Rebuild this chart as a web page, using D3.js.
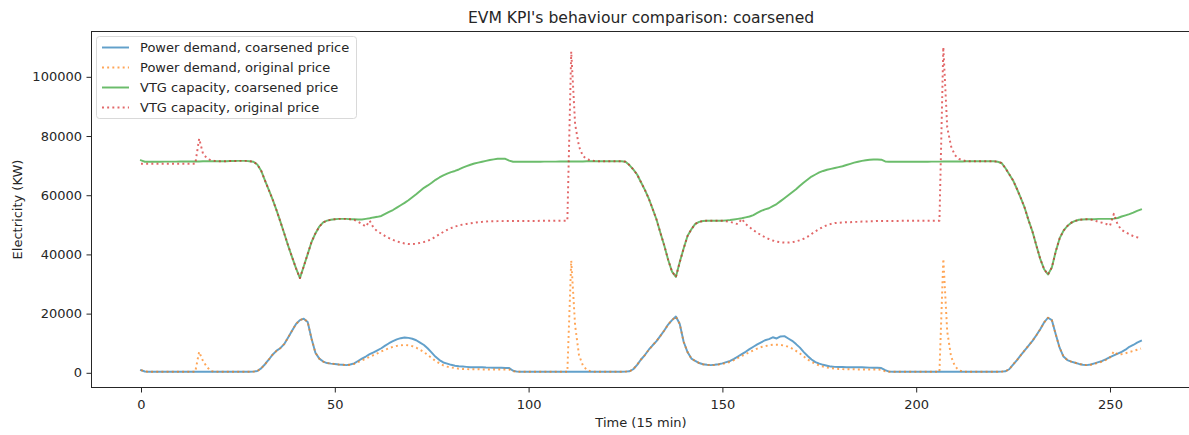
<!DOCTYPE html>
<html>
<head>
<meta charset="utf-8">
<script src="https://cdn.jsdelivr.net/npm/d3@7"></script>
<style>
  html, body { margin: 0; padding: 0; background: #ffffff; }
  svg text { font-family: "DejaVu Sans", "Liberation Sans", sans-serif; fill: #262626; }
</style>
</head>
<body>
<svg id="chart" width="1189" height="435"></svg>
<script>
// Electricity per 15-minute step (KW)
const powerDemandCoarsened = [
  900, 450, 350, 350, 350, 350, 350, 350, 350, 350,
  350, 350, 350, 350, 350, 350, 350, 350, 350, 350,
  350, 350, 350, 350, 350, 350, 350, 350, 350, 400,
  600, 1500, 2900, 4500, 6200, 7500, 8400, 9800, 12000, 14300,
  16500, 17800, 18300, 17200, 11500, 6800, 4800, 3800, 3300, 3100,
  3000, 2800, 2700, 2600, 2800, 3200, 4000, 4800, 5500, 6300,
  6900, 7600, 8300, 9200, 10000, 10700, 11300, 11700, 11900, 11800,
  11500, 11000, 10200, 9400, 8200, 6800, 5400, 4300, 3500, 3100,
  2700, 2400, 2200, 2100, 2000, 1900, 1900, 1900, 1900, 1800,
  1750, 1700, 1700, 1700, 1650, 1600, 700, 400, 350, 350,
  350, 350, 350, 350, 350, 350, 350, 350, 350, 350,
  350, 350, 350, 350, 350, 350, 350, 350, 350, 350,
  350, 350, 350, 350, 350, 400, 500, 1200, 2700, 4500,
  6000, 7800, 9300, 10700, 12500, 14300, 16300, 17800, 19000, 16500,
  10500, 7000, 4800, 4000, 3300, 2900, 2700, 2600, 2700, 2900,
  3200, 3600, 4000, 4700, 5500, 6300, 7100, 8000, 8800, 9600,
  10300, 11000, 11400, 12000, 11600, 12300, 12400, 11600, 10800, 9700,
  8500, 7000, 5700, 4500, 3600, 3100, 2700, 2400, 2100, 2000,
  1950, 1950, 1900, 1900, 1900, 1900, 1850, 1800, 1750, 1700,
  1700, 1600, 900, 400, 350, 350, 350, 350, 350, 350,
  350, 350, 350, 350, 350, 350, 350, 350, 350, 350,
  350, 350, 350, 350, 350, 350, 350, 350, 350, 350,
  350, 350, 400, 500, 1200, 2800, 4300, 6000, 7600, 9200,
  10800, 12700, 14700, 17000, 18600, 17800, 13000, 8500, 5500, 4300,
  3800, 3400, 3000, 2700, 2600, 2800, 3200, 3600, 4000, 4600,
  5300, 5900, 6500, 7100, 7800, 8800, 9400, 10200, 10800
];

const powerDemandOriginal = [
  900, 450, 350, 350, 350, 350, 350, 350, 350, 350,
  350, 350, 350, 350, 350, 7100, 4000, 2000, 600, 350,
  350, 350, 350, 350, 350, 350, 350, 350, 350, 400,
  600, 1500, 2900, 4500, 6200, 7500, 8400, 9800, 12000, 14300,
  16500, 17800, 18300, 17200, 11500, 6800, 4800, 3800, 3300, 3100,
  3000, 2800, 2700, 2600, 2700, 3000, 3600, 4200, 4800, 5400,
  6000, 6600, 7200, 7800, 8300, 8800, 9100, 9300, 9400, 9300,
  9000, 8500, 7800, 7000, 6000, 5000, 4000, 3200, 2500, 2100,
  1800, 1600, 1400, 1300, 1250, 1200, 1200, 1200, 1150, 1150,
  1100, 1100, 1100, 1100, 1100, 1100, 500, 350, 350, 350,
  350, 350, 350, 350, 350, 350, 350, 350, 350, 350,
  350, 37900, 16000, 6000, 2500, 1000, 500, 350, 350, 350,
  350, 350, 350, 350, 350, 400, 500, 1200, 2700, 4500,
  6000, 7800, 9300, 10700, 12500, 14300, 16300, 17800, 19000, 16500,
  10500, 7000, 4800, 4000, 3300, 2900, 2700, 2600, 2600, 2800,
  3000, 3300, 3700, 4300, 5000, 5700, 6300, 7000, 7600, 8200,
  8700, 9000, 9300, 9500, 9500, 9400, 9200, 8800, 8200, 7400,
  6500, 5500, 4500, 3700, 3000, 2500, 2100, 1800, 1600, 1400,
  1300, 1250, 1200, 1200, 1200, 1150, 1150, 1150, 1100, 1100,
  1100, 1050, 500, 350, 350, 350, 350, 350, 350, 350,
  350, 350, 350, 350, 350, 350, 350, 38500, 14000, 5500,
  2200, 900, 400, 350, 350, 350, 350, 350, 350, 350,
  350, 350, 400, 500, 1200, 2800, 4300, 6000, 7600, 9200,
  10800, 12700, 14700, 17000, 18600, 17800, 13000, 8500, 5500, 4300,
  3800, 3400, 3000, 2700, 2600, 2700, 3000, 3400, 3800, 4400,
  5200, 7200, 6200, 6300, 6600, 7000, 7400, 7800, 8200
];

const vtgCapacityCoarsened = [
  71800, 71300, 71300, 71300, 71300, 71300, 71350, 71350, 71350, 71350,
  71400, 71400, 71400, 71400, 71400, 71400, 71450, 71450, 71450, 71500,
  71500, 71500, 71500, 71550, 71550, 71600, 71600, 71600, 71500, 71300,
  70400, 68300, 64900, 61700, 58400, 54800, 50900, 46900, 42800, 39000,
  35300, 32000, 36000, 40100, 44200, 47100, 49400, 50800, 51400, 51700,
  51900, 52000, 52000, 52000, 51900, 51900, 51800, 51800, 52000, 52200,
  52500, 52700, 53000, 53700, 54400, 55000, 55800, 56600, 57400, 58300,
  59300, 60300, 61400, 62500, 63300, 64200, 65200, 66000, 66700, 67300,
  67800, 68200, 68700, 69300, 69800, 70300, 70700, 71000, 71300, 71600,
  71900, 72100, 72300, 72300, 72300, 71700, 71300, 71300, 71300, 71300,
  71300, 71300, 71300, 71300, 71350, 71350, 71350, 71350, 71400, 71400,
  71400, 71400, 71400, 71400, 71400, 71450, 71450, 71450, 71500, 71500,
  71500, 71500, 71500, 71500, 71500, 71300, 70200, 68700, 67000, 64400,
  61800, 58900, 55400, 51800, 47300, 43000, 38200, 34200, 32400, 37400,
  42000, 46200, 48500, 50300, 51000, 51300, 51400, 51400, 51400, 51400,
  51400, 51500, 51600, 51800, 52000, 52200, 52500, 52800, 53300, 54000,
  54700, 55200, 55600, 56300, 57000, 58000, 59000, 60000, 61000, 62000,
  63200, 64300, 65300, 66300, 67000, 67700, 68200, 68600, 68900, 69200,
  69500, 69800, 70200, 70600, 71000, 71300, 71600, 71800, 72000, 72100,
  72100, 72000, 71400, 71300, 71300, 71300, 71300, 71300, 71300, 71300,
  71300, 71300, 71300, 71300, 71350, 71350, 71350, 71400, 71400, 71400,
  71400, 71400, 71400, 71450, 71450, 71450, 71500, 71500, 71500, 71500,
  71500, 71300, 70900, 69200, 67100, 65000, 62100, 59000, 55700, 51500,
  47700, 43000, 38500, 35000, 33200, 35600, 41000, 45400, 48000, 49600,
  50700, 51300, 51700, 51800, 51900, 51900, 51900, 52000, 52000, 52000,
  52000, 52100, 52300, 52800, 53200, 53600, 54100, 54700, 55200
];

const vtgCapacityOriginal = [
  70600, 70600, 70600, 70600, 70600, 70600, 70600, 70600, 70600, 70600,
  70600, 70600, 70600, 70600, 70600, 79100, 74000, 72500, 71800, 71600,
  71500, 71500, 71500, 71550, 71550, 71600, 71600, 71600, 71500, 71300,
  70400, 68300, 64900, 61700, 58400, 54800, 50900, 46900, 42800, 39000,
  35300, 32000, 36000, 40100, 44200, 47100, 49400, 50800, 51400, 51700,
  51900, 52000, 52000, 52000, 51900, 51700, 51000, 50300, 49400, 51400,
  49000, 47800, 47000, 46200, 45500, 44900, 44400, 44000, 43700, 43500,
  43500, 43600, 43900, 44200, 44600, 45200, 46000, 46800, 47600, 48300,
  48900, 49400, 49800, 50100, 50300, 50500, 50700, 50900, 51000, 51100,
  51200, 51200, 51250, 51250, 51300, 51300, 51300, 51300, 51300, 51300,
  51300, 51300, 51300, 51350, 51350, 51350, 51350, 51400, 51400, 51400,
  51400, 108500, 84000, 76500, 73300, 72200, 71800, 71600, 71500, 71500,
  71500, 71500, 71500, 71500, 71500, 71300, 70200, 68700, 67000, 64400,
  61800, 58900, 55400, 51800, 47300, 43000, 38200, 34200, 32400, 37400,
  42000, 46200, 48500, 50300, 51000, 51300, 51400, 51400, 51400, 51400,
  51400, 51200, 51000, 50600, 50200, 52000, 50300, 49200, 48200, 47300,
  46500, 45800, 45200, 44700, 44300, 44100, 44000, 44000, 44100, 44400,
  44800, 45300, 46000, 46900, 47800, 48600, 49300, 49900, 50300, 50600,
  50700, 50800, 50900, 50900, 51000, 51000, 51100, 51100, 51200, 51200,
  51300, 51300, 51300, 51300, 51300, 51300, 51350, 51350, 51350, 51350,
  51400, 51400, 51400, 51400, 51400, 51400, 51400, 110000, 83000, 76500,
  73500, 72300, 71800, 71500, 71450, 71450, 71500, 71500, 71500, 71500,
  71500, 71300, 70900, 69200, 67100, 65000, 62100, 59000, 55700, 51500,
  47700, 43000, 38500, 35000, 33200, 35600, 41000, 45400, 48000, 49600,
  50700, 51300, 51700, 51800, 51900, 51800, 51500, 51000, 50700, 50300,
  49700, 53700, 50000, 48300, 47500, 46800, 46200, 45800, 45500
];

const seriesNames = [
  "Power demand, coarsened price",
  "Power demand, original price",
  "VTG capacity, coarsened price",
  "VTG capacity, original price"
];
const seriesColors = ["#1f77b4", "#ff7f0e", "#2ca02c", "#d62728"];
const seriesDashed = [false, true, false, true];
const xTickValues = [0, 50, 100, 150, 200, 250];
const yTickValues = [0, 20000, 40000, 60000, 80000, 100000];

const chartTitle = "EVM KPI's behaviour comparison: coarsened";
const xAxisLabel = "Time (15 min)";
const yAxisLabel = "Electricity (KW)";

// ---- layout ----
const svg = d3.select("#chart");
const plot = { left: 91, right: 1191, top: 31, bottom: 388 };
const lineWidth = 1.95;
const tickLen = 4.5, tickPad = 4.5;

const allSeries = [powerDemandCoarsened, powerDemandOriginal, vtgCapacityCoarsened, vtgCapacityOriginal];
const nSteps = powerDemandCoarsened.length;

// 5% padding on both axes, like a default pyplot figure
const xMin = 0, xMax = nSteps - 1;
const xPad = (xMax - xMin) * 0.05;
const yAll = allSeries.flat();
const yMin = d3.min(yAll), yMax = d3.max(yAll);
const yPad = (yMax - yMin) * 0.05;

const x = d3.scaleLinear().domain([xMin - xPad, xMax + xPad]).range([plot.left, plot.right]);
const y = d3.scaleLinear().domain([yMin - yPad, yMax + yPad]).range([plot.bottom, plot.top]);

// clip region for the plotted lines
svg.append("defs").append("clipPath").attr("id", "plot-clip")
  .append("rect")
  .attr("x", plot.left).attr("y", plot.top)
  .attr("width", plot.right - plot.left).attr("height", plot.bottom - plot.top);

// ---- data lines ----
const line = d3.line().x((d, i) => x(i)).y(d => y(d));
const linesG = svg.append("g").attr("clip-path", "url(#plot-clip)");
allSeries.forEach((values, k) => {
  linesG.append("path")
    .datum(values)
    .attr("d", line)
    .attr("fill", "none")
    .attr("stroke", seriesColors[k])
    .attr("stroke-opacity", 0.7)
    .attr("stroke-width", lineWidth)
    .attr("stroke-linejoin", "round")
    .attr("stroke-linecap", seriesDashed[k] ? "butt" : "square")
    .attr("stroke-dasharray", seriesDashed[k] ? `${lineWidth},${(lineWidth * 1.65).toFixed(2)}` : null);
});

// ---- axes ----
const xAxis = d3.axisBottom(x).tickValues(xTickValues).tickSize(tickLen).tickPadding(tickPad).tickFormat(d3.format("d"));
const yAxis = d3.axisLeft(y).tickValues(yTickValues).tickSize(tickLen).tickPadding(tickPad).tickFormat(d3.format("d"));

const gx = svg.append("g").attr("transform", `translate(0,${plot.bottom})`).call(xAxis);
const gy = svg.append("g").attr("transform", `translate(${plot.left},0)`).call(yAxis);
[gx, gy].forEach(g => {
  g.select(".domain").remove();
  g.selectAll(".tick line").attr("stroke", "#262626").attr("stroke-width", 1);
  g.selectAll(".tick text").attr("font-size", 13).attr("fill", "#262626")
    .style("font-family", '"DejaVu Sans", sans-serif');
});
gx.selectAll(".tick text").attr("dy", "0.9em");

// frame
svg.append("rect")
  .attr("x", plot.left + 0.5).attr("y", plot.top + 0.5)
  .attr("width", plot.right - plot.left - 1).attr("height", plot.bottom - plot.top - 1)
  .attr("fill", "none").attr("stroke", "#262626").attr("stroke-width", 1);

// ---- titles ----
const cx = (plot.left + plot.right) / 2;
svg.append("text").attr("x", cx).attr("y", 23)
  .attr("text-anchor", "middle").attr("font-size", 15.6).text(chartTitle);
svg.append("text").attr("x", cx).attr("y", 427)
  .attr("text-anchor", "middle").attr("font-size", 13).text(xAxisLabel);
svg.append("text")
  .attr("transform", `translate(22,${(plot.top + plot.bottom) / 2}) rotate(-90)`)
  .attr("text-anchor", "middle").attr("font-size", 13).text(yAxisLabel);

// ---- legend ----
const legend = svg.append("g");
legend.append("rect")
  .attr("x", 96.5).attr("y", 36.5).attr("width", 260).attr("height", 82)
  .attr("rx", 3).attr("ry", 3)
  .attr("fill", "#ffffff").attr("fill-opacity", 0.8)
  .attr("stroke", "#d9d9d9").attr("stroke-width", 1);
const rowY = d3.scaleLinear().domain([0, 3]).range([47.5, 107.5]);
seriesNames.forEach((name, k) => {
  const yy = rowY(k);
  legend.append("line")
    .attr("x1", 102).attr("x2", 129).attr("y1", yy).attr("y2", yy)
    .attr("stroke", seriesColors[k]).attr("stroke-opacity", 0.7)
    .attr("stroke-width", lineWidth)
    .attr("stroke-dasharray", seriesDashed[k] ? `${lineWidth},${(lineWidth * 1.65).toFixed(2)}` : null);
  legend.append("text")
    .attr("x", 140).attr("y", yy).attr("dy", "0.35em")
    .attr("font-size", 13).text(name);
});
</script>
</body>
</html>
